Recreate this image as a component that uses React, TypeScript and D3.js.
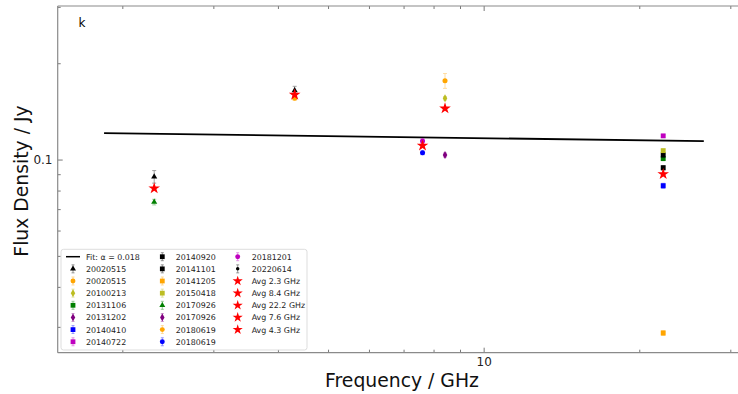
import React from 'react';
import * as d3 from 'd3';

// ---- data ----
const seriesLabels = [
  '20020515', '20020515', '20100213', '20131106', '20131202', '20140410', '20140722',
  '20140920', '20141101', '20141205', '20150418', '20170926', '20170926', '20180619', '20180619',
  '20181201', '20220614',
];
const seriesColors = [
  'black', 'orange', '#bcbd22', 'green', 'purple', 'blue', 'm',
  'black', 'black', 'orange', '#bcbd22', 'green', 'purple', 'orange', 'blue',
  'm', 'black',
];
const seriesMarkers = [
  'triangle', 'circle', 'diamond', 'square', 'diamond', 'square', 'square',
  'square', 'square', 'square', 'square', 'triangle', 'diamond', 'circle', 'circle',
  'circle', 'point',
];
// [frequency GHz, flux Jy, error Jy]
const seriesData: [number, number, number][][] = [
  [[2.3, 0.0887, 0.004], [4.3, 0.165, 0.005]],
  [[8.4, 0.177, 0.0095]],
  [[8.4, 0.156, 0.002]],
  [[22.2, 0.101, 0.0015]],
  [[8.4, 0.1037, 0.0015]],
  [[22.2, 0.0831, 0.0015]],
  [[22.2, 0.119, 0.0015]],
  [[22.2, 0.1037, 0.0015]],
  [[22.2, 0.0946, 0.0015]],
  [[22.2, 0.0288, 0.0005]],
  [[22.2, 0.107, 0.0015]],
  [[2.3, 0.0739, 0.0015]],
  [],
  [[4.3, 0.156, 0.002]],
  [[7.6, 0.1054, 0.0015]],
  [[7.6, 0.1147, 0.002]],
  [],
];
const avgLabels = ['Avg 2.3 GHz', 'Avg 8.4 GHz', 'Avg 22.2 GHz', 'Avg 7.6 GHz', 'Avg 4.3 GHz'];
const avgFreqs = [2.3, 8.4, 22.2, 7.6, 4.3];
const avgFlux = [0.0816, 0.145, 0.0904, 0.111, 0.160];
const fitLabel = 'Fit: α = 0.018';
const fitFreqs = [1.84, 26.6];
const fitFlux = [0.1214, 0.1146];
const xMajorTicks = [10];
const xMinorTicks = [2, 3, 4, 5, 6, 7, 8, 9, 20, 30];
const yMajorTicks = [0.1];
const yMinorTicks = [0.03, 0.04, 0.05, 0.06, 0.07, 0.08, 0.09, 0.2, 0.3];

const W = 738, H = 394;
const L = 57.7, R = 746, T = 6, B = 352.7;
const FONT = 'DejaVu Sans, sans-serif';

const colorMap = (c: string) => (c === 'm' ? '#bf00bf' : c);

function markerPath(m: string, legend = false): string {
  const k = legend ? 0.95 : 1;
  switch (m) {
    case 'triangle': return d3.symbol(d3.symbolTriangle, 16 * k)()!;
    case 'circle': return d3.symbol(d3.symbolCircle, 20 * k)()!;
    case 'diamond': return d3.symbol(d3.symbolDiamond, 18 * k)()!;
    case 'square': return d3.symbol(d3.symbolSquare, 24 * k)()!;
    case 'point': return d3.symbol(d3.symbolCircle, 10 * k)()!;
    case 'star': return d3.symbol(d3.symbolStar, legend ? 32 : 42)()!;
    default: return d3.symbol(d3.symbolCircle, 20)()!;
  }
}

export default function App() {
  const x = d3.scaleLog().domain([1.4965, 32.1]).range([L, R]);
  const y = d3.scaleLog().domain([0.025, 0.303]).range([B, T]);
  const spine = '#8a8a8a';
  const tickC = '#555';

  const fitLine = d3.line<number>()
    .x((_, i) => x(fitFreqs[i]))
    .y((_, i) => y(fitFlux[i]));

  // legend layout
  const legX = 61, legY = 249.3, legW = 246, legH = 100.7;
  const rowY0 = 256.7, rowDy = 12.15;
  const colMarkerX = [73, 162.3, 237.7];
  const colTextX = [86, 175.7, 251.7];
  type Entry = { kind: 'fit' | 'series' | 'avg'; label: string; color: string; marker: string };
  const entries: Entry[] = [{ kind: 'fit', label: fitLabel, color: 'black', marker: '' }];
  seriesLabels.forEach((lb, i) => entries.push({ kind: 'series', label: lb, color: colorMap(seriesColors[i]), marker: seriesMarkers[i] }));
  avgLabels.forEach(lb => entries.push({ kind: 'avg', label: lb, color: 'red', marker: 'star' }));

  return (
    <svg width={W} height={H} style={{ position: 'absolute', left: 0, top: 0, background: 'white' }}
      xmlns="http://www.w3.org/2000/svg">
      <defs>
        <clipPath id="plotclip"><rect x={L} y={T} width={R - L} height={B - T} /></clipPath>
      </defs>
      <rect x={0} y={0} width={W} height={H} fill="white" />

      {/* ticks */}
      <g stroke={tickC} strokeWidth={0.8}>
        {xMajorTicks.map(t => (
          <g key={'xM' + t}>
            <line x1={x(t)} x2={x(t)} y1={B} y2={B - 5} />
            <line x1={x(t)} x2={x(t)} y1={T} y2={T + 5} />
          </g>
        ))}
        {xMinorTicks.map(t => (
          <g key={'xm' + t}>
            <line x1={x(t)} x2={x(t)} y1={B} y2={B - 3} />
            <line x1={x(t)} x2={x(t)} y1={T} y2={T + 3} />
          </g>
        ))}
        {yMajorTicks.map(t => (
          <line key={'yM' + t} x1={L} x2={L + 5} y1={y(t)} y2={y(t)} />
        ))}
        {yMinorTicks.map(t => (
          <line key={'ym' + t} x1={L} x2={L + 3} y1={y(t)} y2={y(t)} />
        ))}
      </g>

      {/* spines */}
      <g stroke={spine} strokeWidth={1.2} fill="none">
        <line x1={L} x2={L} y1={T} y2={B} />
        <line x1={L} x2={W} y1={T} y2={T} />
        <line x1={L} x2={W} y1={B} y2={B} />
      </g>

      {/* tick labels */}
      <g fontFamily={FONT} fontSize={12} fill="#222">
        {xMajorTicks.map(t => (
          <text key={'xl' + t} x={x(t)} y={365.5} textAnchor="middle">{t}</text>
        ))}
        {yMajorTicks.map(t => (
          <text key={'yl' + t} x={52.5} y={y(t) + 4.3} textAnchor="end">{t}</text>
        ))}
      </g>

      {/* axis labels */}
      <text x={402} y={386.5} textAnchor="middle" fontFamily={FONT} fontSize={18.8} fill="#111">Frequency / GHz</text>
      <text transform="translate(28,181) rotate(-90)" textAnchor="middle" fontFamily={FONT} fontSize={18.8} fill="#111">Flux Density / Jy</text>

      <text x={78.5} y={26.5} fontFamily={FONT} fontSize={12} fill="black" stroke="none">k</text>

      <g clipPath="url(#plotclip)">
        {/* fit line */}
        <path d={fitLine(fitFreqs) || ''} stroke="black" strokeWidth={1.8} fill="none" />

        {/* series */}
        {seriesData.map((pts, si) => (
          <g key={'s' + si}>
            {pts.map(([f, s, e], pi) => {
              const cx = x(f), cy = y(s);
              const c = colorMap(seriesColors[si]);
              const y1 = y(s + e), y2 = y(s - e);
              return (
                <g key={pi}>
                  <g stroke={c} strokeWidth={0.8} opacity={0.45}>
                    <line x1={cx} x2={cx} y1={y1} y2={y2} />
                    <line x1={cx - 2} x2={cx + 2} y1={y1} y2={y1} />
                    <line x1={cx - 2} x2={cx + 2} y1={y2} y2={y2} />
                  </g>
                  <path d={markerPath(seriesMarkers[si])} transform={`translate(${cx},${cy})`} fill={c} />
                </g>
              );
            })}
          </g>
        ))}

        {/* averages */}
        {avgFreqs.map((f, i) => (
          <path key={'a' + i} d={markerPath('star')} transform={`translate(${x(f)},${y(avgFlux[i])})`} fill="red" />
        ))}
      </g>

      {/* legend */}
      <rect x={legX} y={legY} width={legW} height={legH} rx={2.5} fill="white" fillOpacity={0.85} stroke="#d4d4d4" strokeWidth={0.8} />
      <g fontFamily={FONT} fontSize={7.9} fill="#222">
        {entries.map((en, i) => {
          const col = Math.floor(i / 8);
          const row = i % 8;
          const cy = rowY0 + row * rowDy;
          const mx = colMarkerX[col];
          return (
            <g key={'l' + i}>
              {en.kind === 'fit' && (
                <line x1={mx - 7} x2={mx + 7} y1={cy} y2={cy} stroke="black" strokeWidth={1.5} />
              )}
              {en.kind === 'series' && (
                <g>
                  <g stroke={en.color} strokeWidth={0.8} opacity={0.5}>
                    <line x1={mx} x2={mx} y1={cy - 4} y2={cy + 4} />
                    <line x1={mx - 1.5} x2={mx + 1.5} y1={cy - 4} y2={cy - 4} />
                    <line x1={mx - 1.5} x2={mx + 1.5} y1={cy + 4} y2={cy + 4} />
                  </g>
                  <path d={markerPath(en.marker, true)} transform={`translate(${mx},${cy})`} fill={en.color} />
                </g>
              )}
              {en.kind === 'avg' && (
                <path d={markerPath('star', true)} transform={`translate(${mx},${cy})`} fill="red" />
              )}
              <text x={colTextX[col]} y={cy + 2.9}>{en.label}</text>
            </g>
          );
        })}
      </g>
    </svg>
  );
}
